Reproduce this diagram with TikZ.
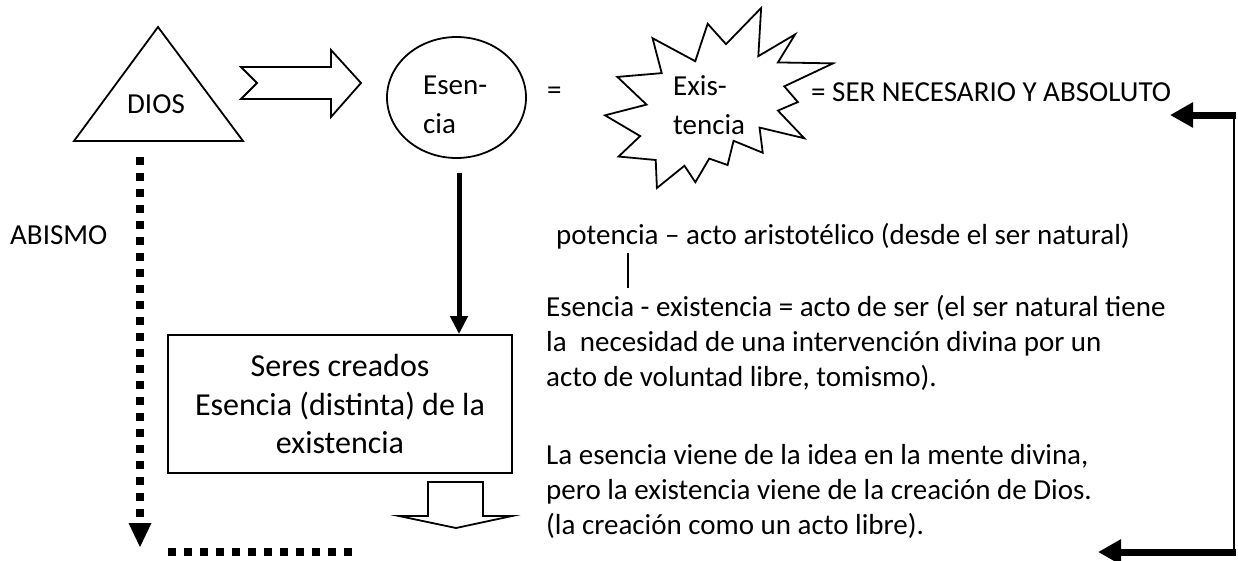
\documentclass[tikz,border=0pt]{standalone}
\usepackage{fontspec}
\setmainfont{Carlito}
\usetikzlibrary{arrows.meta,calc}
\begin{document}
\begin{tikzpicture}[x=1pt,y=-1pt,
  every node/.style={font=\fontsize{29}{35}\selectfont, inner sep=0pt},
  outl/.style={draw=black, line width=1.8pt, fill=white, line join=miter},
  downarrow/.style={line width=5pt, -{Triangle[length=18pt,width=17pt]}},
  dotline/.style={line width=8pt, dash pattern=on 8pt off 8pt},
  bigtip/.style={line width=7pt, -{Triangle[length=23pt,width=24pt]}},
  txt/.style={anchor=base west},
]
\useasboundingbox (0,0) rectangle (1238,560);
\fill[white] (0,0) rectangle (1238,560);
% triangle DIOS
\draw[outl] (158,27) -- (243,141) -- (74,141) -- cycle;
\node[anchor=base] (dios) at (156,113) {DIOS};
% notched block arrow
\draw[outl] (241,67) -- (331,67) -- (331,50) -- (361,83) -- (331,117) -- (331,99)
  -- (241,99) -- (257,83) -- cycle;
% ellipse Esencia
\draw[outl] (456.5,97.5) ellipse [x radius=69.5, y radius=60.5];
\node[txt] (esen) at (423,94) {Esen-};
\node[txt] (cia) at (423,133) {cia};
\node[txt] (eq1) at (547,99) {=};
% starburst
\begin{scope}[shift={(605,8)}, x=1.0556pt, y=-0.8333pt]
\draw[outl] (114.62,43.42) -- (97.22,18.87) -- (85.50,63.82) -- (45.02,36.25) -- (53.72,78.17)
 -- (11.72,82.70) -- (39.35,115.92) -- (0,128.77) -- (33.30,153.70) -- (12.85,178.25)
 -- (48.05,182.40) -- (49.17,216.00) -- (75.27,189.32) -- (85.58,209.03) -- (98.74,180.68)
 -- (116.12,188.42) -- (121.80,159.35) -- (149.42,173.70) -- (146.40,143.50) -- (188.77,156.32)
 -- (163.80,123.10) -- (182.70,112.90) -- (169.85,94.02) -- (216.00,66.45) -- (163.80,65.32)
 -- (180.07,31.72) -- (145.25,57.77) -- (147.90,0) -- cycle;
\end{scope}
\node[txt] (exis) at (673,95) {Exis-};
\node[txt] (tencia) at (673,134) {tencia};
\node[txt] (ser) at (811,101) {= SER NECESARIO Y ABSOLUTO};
% ABISMO
\node[txt] (abismo) at (10,244) {ABISMO};
% dotted arrow
\coordinate (d0) at (140,157);
\coordinate (d1) at (140,547);
\draw[dotline] (d0) -- ($(d1)+(0,-24)$);
\fill (128.5,523) -- (151.5,523) -- (d1) -- cycle;
\coordinate (h0) at (168,552);
\coordinate (h1) at (352,552);
\draw[dotline] (h0) -- (h1);
% box
\node[draw, line width=1.8pt, minimum width=344pt, minimum height=138pt, align=center,
  font=\fontsize{32}{38.5}\selectfont] (seres) at (340,404)
  {Seres creados\\Esencia (distinta) de la\\existencia};
% vertical arrow
\coordinate (va) at (459,173);
\draw[downarrow] (va) -- (va |- seres.north);
% block arrow down
\draw[outl] (428,482) -- (483,482) -- (483,516) -- (512,516) -- (456,528)
  -- (399,516) -- (428,516) -- cycle;
% right texts
\node[txt] (pot) at (556,244) {potencia – acto aristotélico (desde el ser natural)};
\coordinate (bar0) at (628,253);
\coordinate (bar1) at (628,288);
\draw[line width=1.4pt] (bar0) -- (bar1);
\node[txt] (l1) at (546,316) {Esencia - existencia = acto de ser (el ser natural tiene};
\node[txt] (l2) at (546,351) {la\ \ necesidad de una intervención divina por un};
\node[txt] (l3) at (546,386) {acto de voluntad libre, tomismo).};
\node[txt] (l4) at (546,464) {La esencia viene de la idea en la mente divina,};
\node[txt] (l5) at (546,499) {pero la existencia viene de la creación de Dios.};
\node[txt] (l6) at (546,534) {(la creación como un acto libre).};
% right connector
\coordinate (r0) at (1234,115);
\coordinate (r1) at (1234,552);
\coordinate (t0) at (1170,115);
\coordinate (t1) at (1098,552);
\draw[line width=2.5pt] (r0) -- (r1);
\draw[bigtip] ($(r0)+(1.5,0)$) -- (t0);
\draw[bigtip] ($(r1)+(1.5,0)$) -- (t1);
\end{tikzpicture}
\end{document}
